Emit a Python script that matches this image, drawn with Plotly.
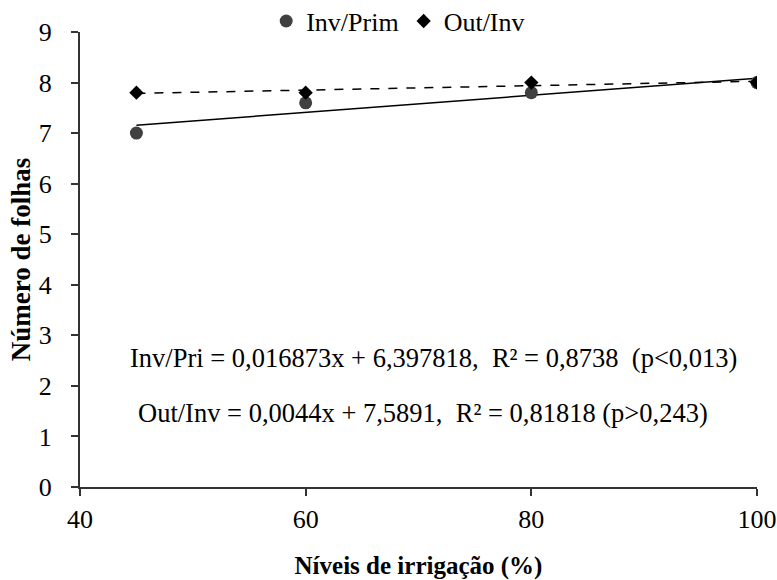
import numpy as np
import plotly.graph_objects as go

# Irrigation levels (%) and number of leaves per season
irrigation = [45, 60, 80, 100]
inv_prim = [7.0, 7.6, 7.8, 8.0]
out_inv = [7.8, 7.8, 8.0, 8.0]

x_ticks = [40, 60, 80, 100]
y_ticks = list(range(0, 10))

eq_inv = "Inv/Pri = 0,016873x + 6,397818,  R² = 0,8738  (p<0,013)"
eq_out = "Out/Inv = 0,0044x + 7,5891,  R² = 0,81818 (p>0,243)"

FONT = "Liberation Serif, Times New Roman, serif"

x_arr = np.array(irrigation, dtype=float)
fit_inv = np.polyfit(x_arr, inv_prim, 1)
fit_out = np.polyfit(x_arr, out_inv, 1)
x_line = np.array([min(irrigation), max(irrigation)], dtype=float)

fig = go.Figure()

# Linear trends
fig.add_trace(go.Scatter(
    x=x_line, y=np.polyval(fit_inv, x_line), mode="lines",
    line=dict(color="black", width=1.5), showlegend=False, hoverinfo="skip"))
fig.add_trace(go.Scatter(
    x=x_line, y=np.polyval(fit_out, x_line), mode="lines",
    line=dict(color="black", width=1.5, dash="dash"), showlegend=False, hoverinfo="skip"))

# Observed values
fig.add_trace(go.Scatter(
    x=irrigation, y=inv_prim, mode="markers", name="Inv/Prim",
    marker=dict(symbol="circle", size=13, color="#404040")))
fig.add_trace(go.Scatter(
    x=irrigation, y=out_inv, mode="markers", name="Out/Inv",
    marker=dict(symbol="diamond", size=11, color="black")))

fig.add_annotation(x=71.3, y=2.56, xref="x", yref="y", text=eq_inv, showarrow=False,
                   font=dict(family=FONT, size=26.5, color="black"))
fig.add_annotation(x=70.4, y=1.47, xref="x", yref="y", text=eq_out, showarrow=False,
                   font=dict(family=FONT, size=26.5, color="black"))

axis_common = dict(
    showline=True, linecolor="#333333", linewidth=2, showgrid=False, zeroline=False,
    ticks="outside", ticklen=7, tickwidth=2, tickcolor="#333333",
    tickfont=dict(family=FONT, size=26, color="black"), automargin=False,
)

fig.update_xaxes(
    range=[40, 100], tickvals=x_ticks, ticklabelstandoff=1,
    title=dict(text="<b>Níveis de irrigação (%)</b>", font=dict(family=FONT, size=25, color="black"),
               standoff=32),
    **axis_common)
fig.update_yaxes(
    range=[0, 9], tickvals=y_ticks, ticklabelstandoff=14,
    title=dict(text="<b>Número de folhas</b>", font=dict(family=FONT, size=27, color="black"),
               standoff=0),
    **axis_common)

fig.update_layout(
    width=777, height=580,
    margin=dict(l=80, r=20, t=32, b=93, autoexpand=False),
    paper_bgcolor="white", plot_bgcolor="white",
    font=dict(family=FONT, color="black"),
    legend=dict(orientation="h", x=0.47, xanchor="center", y=1.024, yanchor="middle",
                font=dict(family=FONT, size=26, color="black"),
                itemwidth=30, bgcolor="rgba(0,0,0,0)"),
)

fig.write_html("out.html")
